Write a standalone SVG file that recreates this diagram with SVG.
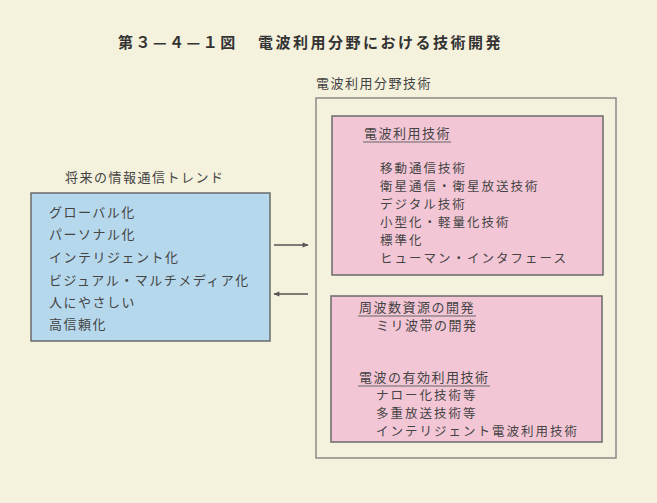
<svg xmlns="http://www.w3.org/2000/svg" width="657" height="503" viewBox="0 0 657 503">
<defs>
<marker id="ah" viewBox="0 0 10 10" refX="9" refY="5" markerWidth="8" markerHeight="6" orient="auto-start-reverse" markerUnits="userSpaceOnUse">
<path d="M0,1 L10,5 L0,9 z" fill="#555"/>
</marker>
</defs>
<style>
text{font-family:"Noto Sans CJK JP","Noto Sans CJK SC",sans-serif;fill:#444;font-size:13px;letter-spacing:1.5px}
.s{font-size:12.5px;letter-spacing:2px}
.t{font-size:15px;font-weight:bold;fill:#333;letter-spacing:2.5px}
.box{stroke:#6a6a6a;stroke-width:1.5}
.ul{stroke:#666;stroke-width:1.2}
.cn{stroke:#555;stroke-width:1.3;fill:none}
</style>
<rect width="657" height="503" fill="#f4f1dc"/>
<g id="title">
<text class="t" x="118" y="48">第３—４—１図</text>
<text class="t" x="258" y="48">電波利用分野における技術開発</text>
</g>
<g id="trend">
<text x="65" y="182">将来の情報通信トレンド</text>
<rect class="box" x="31" y="193" width="239" height="148" fill="#b6d8ec"/>
<text x="49" y="217">グローバル化</text>
<text x="49" y="239">パーソナル化</text>
<text x="49" y="262">インテリジェント化</text>
<text x="49" y="285">ビジュアル・マルチメディア化</text>
<text x="49" y="307">人にやさしい</text>
<text x="49" y="329">高信頼化</text>
</g>
<g id="field">
<text x="316" y="88">電波利用分野技術</text>
<rect x="316" y="98" width="300" height="360" fill="none" stroke="#8a8a8a" stroke-width="1.5"/>
</g>
<g id="tech">
<rect class="box" x="332" y="116" width="271" height="159" fill="#f3c6d6"/>
<text x="364" y="138">電波利用技術</text>
<line class="ul" x1="363" y1="142" x2="451" y2="142"/>
<text class="s" x="380" y="173">移動通信技術</text>
<text class="s" x="380" y="191">衛星通信・衛星放送技術</text>
<text class="s" x="380" y="209">デジタル技術</text>
<text class="s" x="380" y="227">小型化・軽量化技術</text>
<text class="s" x="380" y="245">標準化</text>
<text class="s" x="380" y="263">ヒューマン・インタフェース</text>
</g>
<g id="resource">
<rect class="box" x="331" y="296" width="271" height="146" fill="#f3c6d6"/>
<text x="359" y="312">周波数資源の開発</text>
<line class="ul" x1="358" y1="316" x2="476" y2="316"/>
<text x="376" y="330">ミリ波帯の開発</text>
<text x="359" y="382">電波の有効利用技術</text>
<line class="ul" x1="358" y1="386" x2="490" y2="386"/>
<text class="s" x="376" y="400">ナロー化技術等</text>
<text class="s" x="376" y="418">多重放送技術等</text>
<text class="s" x="376" y="436">インテリジェント電波利用技術</text>
</g>
<g id="connectors">
<line class="cn" x1="274" y1="245" x2="308" y2="245" marker-end="url(#ah)"/>
<line class="cn" x1="308" y1="294" x2="274" y2="294" marker-end="url(#ah)"/>
</g>
</svg>
